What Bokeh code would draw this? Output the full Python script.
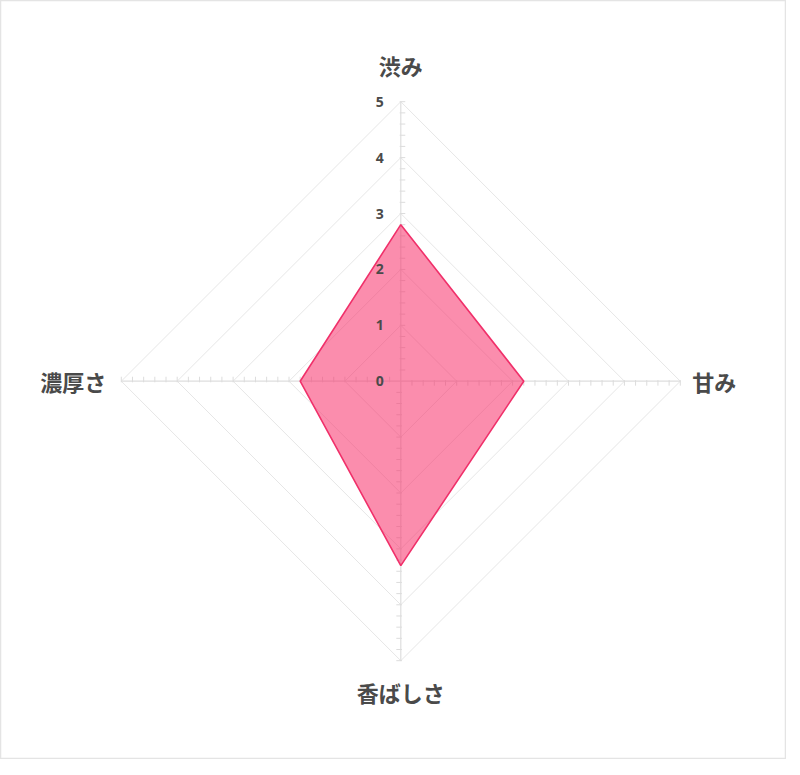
import numpy as np
from bokeh.plotting import figure
from bokeh.models import ColumnDataSource
from bokeh.core.properties import value
from bokeh.embed import file_html
from bokeh.resources import INLINE

# chart data
categories = ["渋み", "甘み", "香ばしさ", "濃厚さ"]
scores = [2.8, 2.2, 3.3, 1.8]
levels = [1, 2, 3, 4, 5]
level_labels = ["0", "1", "2", "3", "4", "5"]
max_level = 5

# geometry: spokes start at top and go clockwise
angles = np.pi / 2 - np.arange(len(categories)) * 2 * np.pi / len(categories)
px = 55.9  # pixels per unit

W, H = 786, 759
cx, cy = 400.3, 380.7
p = figure(width=W, height=H, output_backend="svg", toolbar_location=None,
           x_range=(-cx / px, (W - cx) / px), y_range=(-(H - cy) / px, cy / px),
           min_border=0)
p.axis.visible = False
p.grid.visible = False
p.outline_line_color = "#e4e4e4"
p.outline_line_width = 1.5
p.background_fill_color = "white"

# grid polygons
for lv in levels:
    gx = list(lv * np.cos(angles)) + [lv * np.cos(angles[0])]
    gy = list(lv * np.sin(angles)) + [lv * np.sin(angles[0])]
    p.line(gx, gy, line_color="#e6e6e6", line_width=1)

# spokes
p.segment(x0=[0] * len(angles), y0=[0] * len(angles),
          x1=list(max_level * np.cos(angles)), y1=list(max_level * np.sin(angles)),
          line_color="#dedede", line_width=1.2)

# minor ticks along every spoke
tx0, ty0, tx1, ty1 = [], [], [], []
for a in angles:
    nx, ny = np.cos(a - np.pi / 2), np.sin(a - np.pi / 2)
    for k in range(1, max_level * 5 + 1):
        r = k / 5
        bx, by = r * np.cos(a), r * np.sin(a)
        tx0.append(bx - nx * 0.02)
        ty0.append(by - ny * 0.02)
        tx1.append(bx + nx * 0.08)
        ty1.append(by + ny * 0.08)
p.segment(x0=tx0, y0=ty0, x1=tx1, y1=ty1, line_color="#dcdcdc", line_width=1)

# data polygon
sx = [s * np.cos(a) for s, a in zip(scores, angles)]
sy = [s * np.sin(a) for s, a in zip(scores, angles)]
p.patch(sx, sy, fill_color="#f7306a", fill_alpha=0.55,
        line_color="#f0306a", line_width=1.6)

# level labels
p.text(x=[-21 / px] * len(level_labels), y=list(range(len(level_labels))),
       text=level_labels, text_align="center", text_baseline="middle",
       text_font=value("Open Sans"), text_font_style="bold",
       text_font_size="14px", text_color="#4a4a4a")

# category labels
lab = ColumnDataSource(dict(
    x=[0, 5 + 12 / px, 0, -5 - 15 / px],
    y=[5 + 37 / px, 0, -5 - 31 / px, 0],
    text=categories,
    align=["center", "left", "center", "right"],
))
p.text(x="x", y="y", text="text", source=lab, text_align="align",
       text_baseline="middle", text_font=value("Noto Sans CJK JP"),
       text_font_style="bold", text_font_size="22px", text_color="#4a4a4a")

open("out.html", "w").write(file_html(p, INLINE))
